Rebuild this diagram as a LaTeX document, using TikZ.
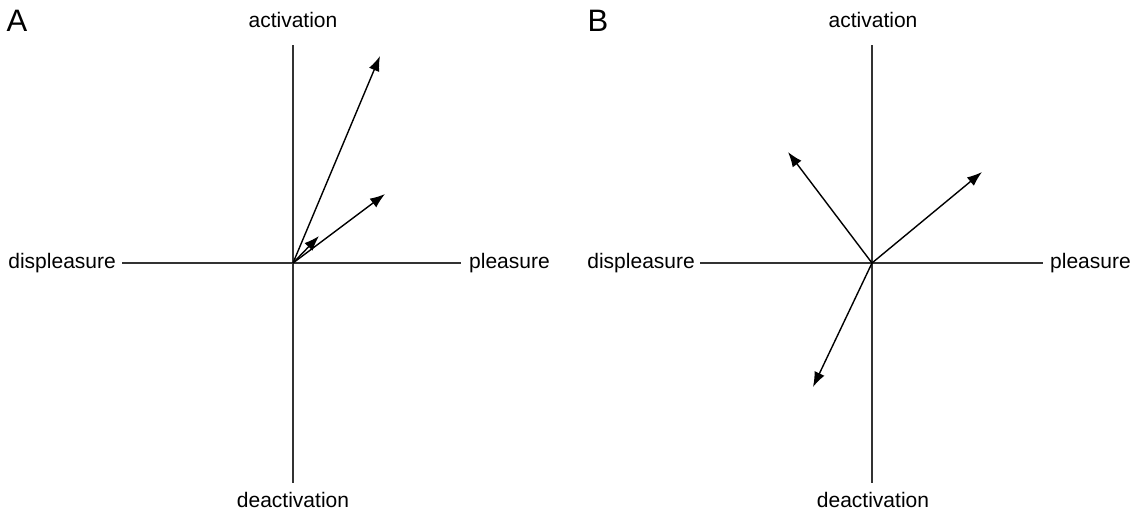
\documentclass[tikz,border=0pt]{standalone}
\usepackage{fontspec}
\setmainfont{Liberation Sans}
\usetikzlibrary{arrows.meta}

\tikzset{
  axis/.style={line width=1.4pt, black!80},
  vec/.style={-{Latex[length=15pt,width=11pt]}, line width=1.4pt, black},
  lbl/.style={inner sep=0pt, font=\fontsize{21}{25}\selectfont},
  panel/.style={inner sep=0pt, font=\fontsize{31}{36}\selectfont}
}

\begin{document}
\begin{tikzpicture}[x=1pt, y=-1pt]
  \useasboundingbox (0,0) rectangle (1136,514);

  % Pannello A
  \node[panel] (A) at (17,21) {A};
  \coordinate (oA) at (293,263);
  \coordinate (topA) at (293,45);
  \coordinate (botA) at (293,483);
  \coordinate (leftA) at (122,263);
  \coordinate (rightA) at (461,263);
  \node[lbl] (actA) at (293,20) {activation};
  \node[lbl] (deactA) at (293,500) {deactivation};
  \node[lbl, anchor=east] (dispA) at (116,263) {displeasure};
  \node[lbl, anchor=west] (pleaA) at (469,263) {pleasure};
  \draw[axis] (topA) -- (botA);
  \draw[axis] (leftA) -- (rightA);

  % Vettori A
  \coordinate (a1) at (380,56);
  \coordinate (a2) at (385,194);
  \coordinate (a3) at (319,236);
  \draw[vec] (oA) -- (a1);
  \draw[vec] (oA) -- (a2);
  \draw[vec] (oA) -- (a3);

  % Pannello B
  \node[panel] (B) at (598,21) {B};
  \coordinate (oB) at (872,263);
  \coordinate (topB) at (872,45);
  \coordinate (botB) at (872,483);
  \coordinate (leftB) at (700,263);
  \coordinate (rightB) at (1043,263);
  \node[lbl] (actB) at (873,20) {activation};
  \node[lbl] (deactB) at (873,500) {deactivation};
  \node[lbl, anchor=east] (dispB) at (695,263) {displeasure};
  \node[lbl, anchor=west] (pleaB) at (1050,263) {pleasure};
  \draw[axis] (topB) -- (botB);
  \draw[axis] (leftB) -- (rightB);

  % Vettori B
  \coordinate (b1) at (788,152);
  \coordinate (b2) at (982,172);
  \coordinate (b3) at (813,387);
  \draw[vec] (oB) -- (b1);
  \draw[vec] (oB) -- (b2);
  \draw[vec] (oB) -- (b3);
\end{tikzpicture}
\end{document}
